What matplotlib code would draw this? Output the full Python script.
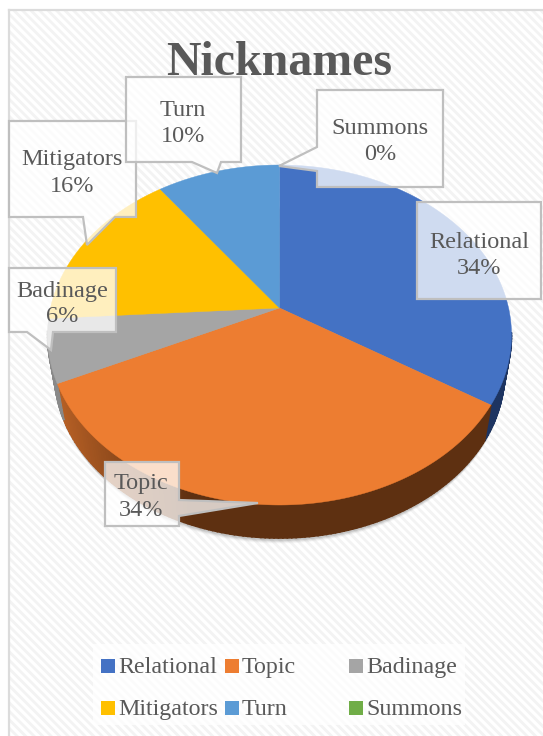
import numpy as np
import matplotlib
matplotlib.use("Agg")
import matplotlib.pyplot as plt
from matplotlib.patches import Polygon, Rectangle, Ellipse

categories = ["Relational", "Topic", "Badinage", "Mitigators", "Turn", "Summons"]
percent = [34, 34, 6, 16, 10, 0]
colors = ["#4472C4", "#ED7D31", "#A5A5A5", "#FFC000", "#5B9BD5", "#70AD47"]
side_colors = ["#1D3461", "#5E3011", "#5A5A5A", "#7F6000", "#2A5A8A", "#375623"]

W, H = 543, 736
TEXT = "#595959"
SERIF = "Liberation Serif"

# pie geometry in pixels
cx, cy, rx, ry = 279.5, 335.0, 232.0, 170.0
apex_y = 308.0
bot_cy, bot_rx, bot_ry = 373.0, 225.0, 165.0
k = (cy - apex_y) / ry


def top_face(theta):
    # perspective view of the disc, theta runs clockwise from 12 o'clock
    u, v = np.sin(theta), np.cos(theta)
    w = 1 + k * v
    x = cx + rx * np.sqrt(1 - k * k) * u / w
    y = cy - (ry * v + ry * k) / w
    return x, y


def bottom_face(theta):
    x, y = top_face(theta)
    return cx + (x - cx) * bot_rx / rx, bot_cy + (y - cy) * bot_ry / ry


def shade(hex_dark, hex_top, x):
    # wall gets lighter towards the far left
    a = np.clip((190 - x) / 135, 0, 1) * 0.62
    d = np.array(matplotlib.colors.to_rgb(hex_dark))
    t = np.array(matplotlib.colors.to_rgb(hex_top))
    return d + (t - d) * a


fig = plt.figure(figsize=(W / 100, H / 100), dpi=100)
ax = fig.add_axes([0, 0, 1, 1])
ax.set_xlim(0, W)
ax.set_ylim(H, 0)
ax.axis("off")

# chart area with light diagonal stripes
clip = Rectangle((9, 10), W, H, fc="white", ec="none", zorder=0)
ax.add_patch(clip)
for c in np.arange(-H, W + H, 8.5):
    line, = ax.plot([c, c + H], [0, H], color="#f3f3f3", lw=2.0, zorder=0.5)
    line.set_clip_path(clip)
ax.plot([9, 9], [H, 9.5], color="#dcdcdc", lw=1.6, zorder=1)
ax.plot([9, W], [9.5, 9.5], color="#dcdcdc", lw=1.6, zorder=1)

# soft shadow under the pie
for grow, alpha in zip([7, 5.5, 4, 2.5, 1], [0.03, 0.05, 0.07, 0.09, 0.12]):
    ax.add_patch(Ellipse((cx, bot_cy + 2), 2 * bot_rx, 2 * bot_ry + grow,
                         fc="#555555", ec="none", alpha=alpha, zorder=1.5))

ends = np.cumsum(percent) / sum(percent) * 2 * np.pi
starts = np.concatenate([[0], ends[:-1]])

# side wall, split into thin strips so it can be shaded
for start, end, col, side in zip(starts, ends, colors, side_colors):
    if end <= start:
        continue
    t = np.linspace(start, end, max(2, int((end - start) * 60)))
    for a, b in zip(t[:-1], t[1:]):
        # the back and the upper flanks stay hidden behind the top face
        if np.cos(a) > -0.15 and np.cos(b) > -0.15:
            continue
        xa, ya = top_face(a)
        xb, yb = top_face(b)
        xc, yc = bottom_face(b)
        xd, yd = bottom_face(a)
        fill = shade(side, col, (xa + xb) / 2)
        ax.add_patch(Polygon([(xa, ya), (xb, yb), (xc, yc), (xd, yd)], fc=fill, ec=fill,
                             lw=1.2, zorder=2))

# top faces
for start, end, col in zip(starts, ends, colors):
    if end <= start:
        continue
    t = np.linspace(start, end, 200)
    xs, ys = top_face(t)
    pts = [(cx, apex_y)] + list(zip(xs, ys))
    ax.add_patch(Polygon(pts, fc=col, ec=col, lw=0.3, zorder=3))

ax.text(279, 63, "Nicknames", family=SERIF, weight="bold", fontsize=34.5, color=TEXT,
        ha="center", va="center", zorder=4)

# callout outlines
callouts = {
    "Mitigators": [(9, 121), (136, 121), (136, 217), (115, 217), (87, 245), (83, 217), (9, 217)],
    "Turn": [(126, 77), (241, 77), (241, 162), (221, 162), (217, 173), (192, 162), (126, 162)],
    "Badinage": [(9, 268), (116, 268), (116, 332), (53, 332), (51, 350), (27, 332), (9, 332)],
    "Summons": [(317, 90), (443, 90), (443, 187), (317, 187), (317, 171), (279, 166), (317, 147)],
    "Relational": [(417, 202), (541, 202), (541, 299), (417, 299)],
    "Topic": [(105, 462), (179, 462), (179, 500), (258, 503), (179, 516), (179, 526), (105, 526)],
}
label_xy = {
    "Mitigators": (72, 172),
    "Turn": (183, 122),
    "Badinage": (62, 303),
    "Summons": (380, 141),
    "Relational": (479, 254),
    "Topic": (141, 496),
}
for name, value in zip(categories, percent):
    ax.add_patch(Polygon(callouts[name], closed=True, fc=(1, 1, 1, 0.75), ec="#bfbfbf",
                         lw=1.6, zorder=5))
    x, y = label_xy[name]
    ax.text(x, y - 12, name, family=SERIF, fontsize=17.5, color=TEXT, ha="center",
            va="center", zorder=6)
    ax.text(x, y + 14, f"{value}%", family=SERIF, fontsize=17.5, color=TEXT, ha="center",
            va="center", zorder=6)

# legend panel
ax.add_patch(Rectangle((93, 644), 372, 81, fc=(1, 1, 1, 0.75), ec="none", zorder=4))
legend_x = [101, 225, 349]
legend_y = [666, 708]
for i, (name, col) in enumerate(zip(categories, colors)):
    lx, ly = legend_x[i % 3], legend_y[i // 3]
    ax.add_patch(Rectangle((lx, ly - 7), 14, 14, fc=col, ec="none", zorder=5))
    ax.text(lx + 17, ly + 7, name, family=SERIF, fontsize=17.3, color=TEXT, ha="left",
            va="baseline", zorder=6)

fig.savefig("out.png", dpi=100)
